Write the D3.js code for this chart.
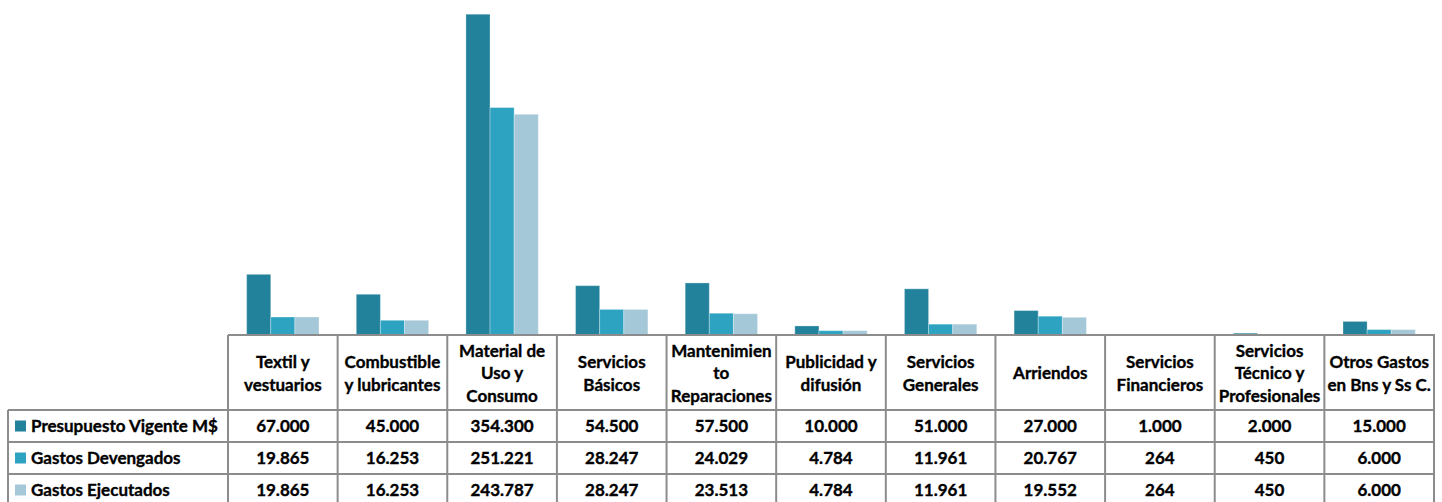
<!DOCTYPE html>
<html>
<head>
<meta charset="utf-8">
<script src="https://cdn.jsdelivr.net/npm/d3@7/dist/d3.min.js"></script>
<style>
  html, body { margin: 0; padding: 0; background: #fff; }
  svg { display: block; }
  text { font-family: Lato, "Open Sans", sans-serif; font-weight: 700; fill: #000; stroke: #000; stroke-width: 0.35px; }
</style>
</head>
<body>
<svg id="chart" width="1442" height="502"></svg>
<script>
// Budget items (each label split into its printed lines)
const categories = [
  "Textil y|vestuarios",
  "Combustible|y lubricantes",
  "Material de|Uso y|Consumo",
  "Servicios|Básicos",
  "Mantenimien|to|Reparaciones",
  "Publicidad y|difusión",
  "Servicios|Generales",
  "Arriendos",
  "Servicios|Financieros",
  "Servicios|Técnico y|Profesionales",
  "Otros Gastos|en Bns y Ss C."
];

const seriesNames = ["Presupuesto Vigente M$", "Gastos Devengados", "Gastos Ejecutados"];
const seriesColors = ["#23829B", "#2DA3C1", "#A5C8D8"];

const presupuesto = [67000, 45000, 354300, 54500, 57500, 10000, 51000, 27000, 1000, 2000, 15000];
const devengados  = [19865, 16253, 251221, 28247, 24029, 4784, 11961, 20767, 264, 450, 6000];
const ejecutados  = [19865, 16253, 243787, 28247, 23513, 4784, 11961, 19552, 264, 450, 6000];

const seriesValues = [presupuesto, devengados, ejecutados];

// Layout
const W = 1442, H = 502;
const tableLeft = 8, catLeft = 228, catRight = 1434;
const baseY = 335, headerBottom = 410, rowH = 32;
const gridColor = "#8C8C8C";
const fontSize = 17;

const svg = d3.select("#chart");

const locale = d3.formatLocale({ decimal: ",", thousands: ".", grouping: [3], currency: ["$", ""] });
const fmt = locale.format(",d");

const x = d3.scaleBand().domain(categories).range([catLeft, catRight]).paddingInner(0).paddingOuter(0);
const bw = x.bandwidth();
const xs = d3.scaleBand().domain(seriesNames).range([bw * 0.17, bw * 0.83]).padding(0);
const y = d3.scaleLinear().domain([0, 370000]).range([baseY, 0]);

// Bars
seriesNames.forEach((name, si) => {
  svg.append("g")
    .selectAll("rect")
    .data(categories.map((c, i) => ({ c, v: seriesValues[si][i] })))
    .join("rect")
    .attr("x", d => x(d.c) + xs(name))
    .attr("y", d => y(d.v))
    .attr("width", xs.bandwidth())
    .attr("height", d => baseY - y(d.v))
    .attr("fill", seriesColors[si])
    .attr("stroke", "#ffffff")
    .attr("stroke-opacity", 0.3)
    .attr("stroke-width", 1);
});

// Data table grid
const grid = svg.append("g").attr("stroke", gridColor).attr("stroke-width", 2).attr("fill", "none");
const tableBottom = headerBottom + rowH * 3;

// axis / header top line
grid.append("line").attr("x1", catLeft).attr("x2", catRight + 1).attr("y1", baseY).attr("y2", baseY);
// horizontal row lines
[0, 1, 2, 3].forEach(r => {
  const yy = headerBottom + r * rowH;
  grid.append("line").attr("x1", tableLeft).attr("x2", catRight + 1).attr("y1", yy).attr("y2", yy);
});
// left border of the label column
grid.append("line").attr("x1", tableLeft).attr("x2", tableLeft).attr("y1", headerBottom).attr("y2", tableBottom);
// category column separators
categories.forEach(c => {
  grid.append("line").attr("x1", x(c)).attr("x2", x(c)).attr("y1", baseY).attr("y2", tableBottom);
});
grid.append("line").attr("x1", catRight).attr("x2", catRight).attr("y1", baseY).attr("y2", tableBottom);

// Header labels
const lineH = 22.5;
const headerMid = (baseY + headerBottom) / 2 + 1;
categories.forEach(c => {
  const lines = c.split("|");
  const t = svg.append("text")
    .attr("text-anchor", "middle")
    .attr("font-size", fontSize);
  lines.forEach((ln, k) => {
    t.append("tspan")
      .attr("x", x(c) + bw / 2)
      .attr("y", headerMid + (k - (lines.length - 1) / 2) * lineH)
      .attr("dy", "0.35em")
      .text(ln);
  });
});

// Row labels with legend keys, and values
seriesNames.forEach((name, si) => {
  const cy = headerBottom + si * rowH + rowH / 2;
  svg.append("rect")
    .attr("x", 15).attr("y", cy - 5.5)
    .attr("width", 11).attr("height", 11)
    .attr("fill", seriesColors[si]);
  svg.append("text")
    .attr("x", 31).attr("y", cy).attr("dy", "0.35em")
    .attr("font-size", fontSize)
    .text(name);
  categories.forEach((c, i) => {
    svg.append("text")
      .attr("x", x(c) + bw / 2).attr("y", cy).attr("dy", "0.35em")
      .attr("text-anchor", "middle")
      .attr("font-size", fontSize)
      .text(fmt(seriesValues[si][i]));
  });
});
</script>
</body>
</html>
